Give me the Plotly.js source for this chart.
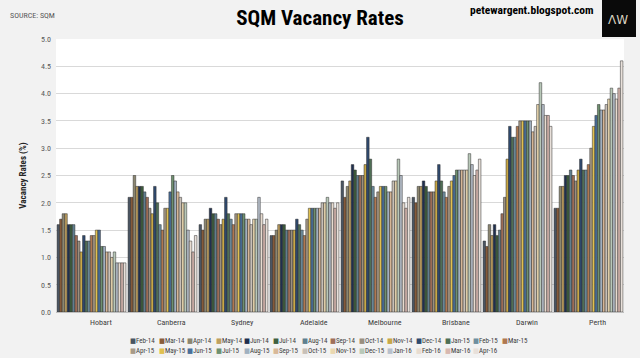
<!DOCTYPE html>
<html>
<head>
<meta charset="utf-8">
<script src="https://cdn.plot.ly/plotly-3.0.1.min.js"></script>
<style>html,body{margin:0;padding:0;background:#F2F2F2;}#chart{width:640px;height:358px;}</style>
</head>
<body>
<div id="chart"></div>
<script>
// ---- data ----
const cities = ['Hobart','Canberra','Sydney','Adelaide','Melbourne','Brisbane','Darwin','Perth'];
const months = ['Feb-14','Mar-14','Apr-14','May-14','Jun-14','Jul-14','Aug-14','Sep-14','Oct-14','Nov-14','Dec-14','Jan-15','Feb-15','Mar-15',
                'Apr-15','May-15','Jun-15','Jul-15','Aug-15','Sep-15','Oct-15','Nov-15','Dec-15','Jan-16','Feb-16','Mar-16','Apr-16'];
const hobart    = [1.6,1.7,1.8,1.8,1.6,1.6,1.6,1.4,1.3,1.1,1.4,1.3,1.3,1.4,1.4,1.5,1.5,1.2,1.2,1.1,1.1,1.0,1.1,0.9,0.9,0.9,0.9];
const canberra  = [2.1,2.1,2.5,2.3,2.3,2.3,2.2,2.1,1.9,1.8,2.3,2.0,1.6,1.5,1.9,1.9,2.2,2.5,2.4,2.2,2.1,2.0,2.0,1.5,1.3,1.1,1.4];
const sydney    = [1.6,1.5,1.7,1.7,1.9,1.8,1.8,1.7,1.6,1.7,2.1,1.8,1.7,1.6,1.8,1.8,1.8,1.8,1.7,1.7,1.6,1.7,1.7,2.1,1.8,1.6,1.7];
const adelaide  = [1.4,1.4,1.5,1.6,1.6,1.6,1.5,1.5,1.5,1.5,1.7,1.6,1.5,1.4,1.7,1.9,1.9,1.9,1.9,1.9,2.0,2.0,2.1,2.0,2.0,1.9,2.0];
const melbourne = [2.4,2.1,2.3,2.4,2.7,2.6,2.5,2.5,2.5,2.7,3.2,2.8,2.3,2.1,2.2,2.3,2.3,2.3,2.2,2.2,2.4,2.4,2.8,2.5,2.0,1.9,2.1];
const brisbane  = [2.1,2.0,2.3,2.3,2.4,2.3,2.2,2.2,2.2,2.4,2.7,2.4,2.2,2.1,2.3,2.4,2.5,2.6,2.6,2.6,2.6,2.6,2.9,2.7,2.5,2.6,2.8];
const darwin    = [1.3,1.2,1.6,1.4,1.6,1.4,1.5,1.8,2.1,2.8,3.4,3.2,3.2,3.4,3.5,3.5,3.5,3.5,3.5,3.3,3.4,3.8,4.2,3.8,3.6,3.6,3.4];
const perth     = [1.9,1.9,2.3,2.3,2.5,2.5,2.6,2.5,2.4,2.6,2.8,2.6,2.6,2.7,3.0,3.4,3.6,3.8,3.7,3.7,3.8,3.9,4.1,4.0,3.9,4.1,4.6];
const yTicks = [0,0.5,1,1.5,2,2.5,3,3.5,4,4.5,5];

// ---- styles ----
const colors = ['#4A5563','#8B5E3C','#8C8670','#BFA060','#1F2F4F','#3F5F3F','#5F7F8F','#A0705A','#9A8F80','#C8A848',
                '#2F4A6F','#4F6F55','#6F8FA0','#B07850','#A89A88','#E0C050','#4A6F9A','#6F9070','#A0B0C0','#D8B898',
                '#C8C0B8','#EAD8B0','#B8C8B8','#B8C0CC','#E8DCD0','#D8B8B0','#E8E0DA'];
const FONT = 'Liberation Sans Narrow, Arial Narrow, Roboto Condensed, DejaVu Sans Condensed, Liberation Sans, sans-serif';

const byCity = [hobart, canberra, sydney, adelaide, melbourne, brisbane, darwin, perth];
const traces = months.map((m, i) => ({
  type: 'bar', name: m, x: cities, y: byCity.map(arr => arr[i]),
  marker: {color: colors[i], line: {color: '#2A2A2A', width: 0.5}},
  hoverinfo: 'skip'
}));

// pixel -> paper helpers (plot area: x 56..624, y 39..312)
const L = 56, R = 16, T = 39, B = 46, W = 640, H = 358;
const pw = W - L - R, ph = H - T - B;
const px = x => (x - L) / pw;
const py = y => (H - B - y) / ph;

const annotations = [
  {text: 'SOURCE: SQM', x: px(8), y: py(15), xref: 'paper', yref: 'paper', xanchor: 'left', yanchor: 'middle', showarrow: false,
   font: {family: FONT, size: 8, color: '#595959'}},
  {text: '<b>petewargent.blogspot.com</b>', x: px(596), y: py(10), xref: 'paper', yref: 'paper', xanchor: 'right', yanchor: 'middle', showarrow: false,
   font: {family: FONT, size: 11.5, color: '#000000'}},
  {text: 'ΛW', x: px(618), y: py(20), xref: 'paper', yref: 'paper', xanchor: 'center', yanchor: 'middle', showarrow: false,
   font: {family: 'DejaVu Sans, sans-serif', size: 12, color: '#D9D3C0'}}
];
// category labels (drawn slightly right of group centres, as in the reference)
cities.forEach(c => {
  annotations.push({text: c, x: c, y: py(322), xref: 'x', yref: 'paper', xshift: 9, xanchor: 'center', yanchor: 'middle',
    showarrow: false, font: {family: FONT, size: 8, color: '#404040'}});
});
// legend (two rows)
months.forEach((m, i) => {
  const row = i < 14 ? 0 : 1;
  const col = row === 0 ? i : i - 14;
  annotations.push({
    text: '<span style="color:' + colors[i] + '">■</span>' + m,
    x: px(128 + col * 28.6), y: py(row === 0 ? 341 : 351), xref: 'paper', yref: 'paper',
    xanchor: 'left', yanchor: 'middle', showarrow: false,
    font: {family: FONT, size: 7, color: '#404040'}
  });
});

const layout = {
  width: W, height: H,
  paper_bgcolor: '#F2F2F2', plot_bgcolor: '#FFFFFF',
  margin: {l: L, r: R, t: T, b: B},
  title: {text: '<b>SQM Vacancy Rates</b>', x: 0.5, xref: 'container', y: 1 - 18 / H, yref: 'container', yanchor: 'middle',
          font: {family: FONT, size: 21, color: '#000000'}},
  barmode: 'group', bargap: 0.03, bargroupgap: 0,
  showlegend: false,
  xaxis: {type: 'category', ticks: '', showline: true, linecolor: '#BFBFBF', linewidth: 1,
          showticklabels: false, showgrid: false},
  yaxis: {range: [0, 5], tickvals: yTicks, tickformat: '.1f', ticks: '', showline: false, zeroline: false,
          gridcolor: '#D9D9D9', gridwidth: 1,
          tickfont: {family: FONT, size: 8, color: '#595959'}, ticklabelstandoff: 4,
          title: {text: '<b>Vacancy Rates (%)</b>', font: {family: FONT, size: 9, color: '#262626'}, standoff: 12}},
  shapes: [
    {type: 'rect', xref: 'paper', yref: 'paper', x0: px(602), x1: px(636), y0: py(37), y1: py(0),
     fillcolor: '#0A0A0A', line: {width: 0}, layer: 'above'}
  ],
  annotations: annotations
};

Plotly.newPlot('chart', traces, layout, {displayModeBar: false, staticPlot: true});
</script>
</body>
</html>
